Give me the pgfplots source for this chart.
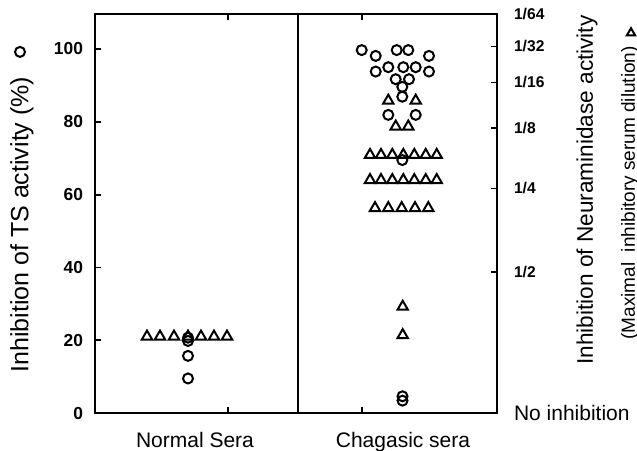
\documentclass[border=0pt]{standalone}
\usepackage{pgfplots}
\pgfplotsset{compat=1.18}
\usepackage{fontspec}
\setmainfont{Liberation Sans}

% 1 px of the reference = 0.5pt; x in px, y in % (0 at px 413, 3.64 px per unit)
\begin{document}
\begin{tikzpicture}
\pgfplotsset{
  panel/.style={
    scale only axis, width=201pt, height=199.5pt,
    xmin=95, xmax=497, ymin=0, ymax=109.6,
    axis line style={line width=1pt},
    tick align=inside, major tick length=3pt,
    tick style={line width=0.9pt, black},
    /pgf/number format/assume math mode=true,
    clip=false,
  },
  circ/.style={only marks, mark=o, mark size=2.5pt, line width=1pt},
  tri/.style={only marks, mark=triangle, mark size=3pt, line width=1pt},
}
\begin{axis}[panel,
    xtick={228,362}, xticklabels={}, xtick pos=both,
    ytick={0,20,40,60,80,100}, ytick pos=left,
    yticklabel style={font=\fontsize{8.7}{10}\selectfont\bfseries, xshift=-2.5pt},
]
% normal sera
\addplot[tri] coordinates {
  (147,21.0) (160,21.0) (174,21.0) (188,21.0) (201,21.0) (214,21.0) (227,21.0)
};
\addplot[circ] coordinates {
  (188,20.7) (188,19.8) (188,15.7) (188,9.5)
};
% chagasic sera
\addplot[tri] coordinates {
  (388.3,85.8) (415.7,85.8) (395.7,78.7) (408.3,78.7)
  (370,70.9) (381,70.9) (392.3,70.9) (403.3,70.9) (414.3,70.9) (425.7,70.9) (436.7,70.9)
  (370,64.0) (381,64.0) (392.3,64.0) (403.3,64.0) (414.3,64.0) (425.7,64.0) (436.7,64.0)
  (375,56.3) (388.3,56.3) (401.7,56.3) (415,56.3) (428.3,56.3)
  (402.7,29.2) (402.7,21.4)
};
\addplot[circ] coordinates {
  (361.7,99.7) (375.7,98.1) (396.7,99.7) (408.3,99.7) (429,98.1)
  (375.7,93.8) (388.3,95.0) (403.3,95.0) (415.7,95.0) (429,93.8)
  (395.7,91.7) (409,91.7) (402.3,89.6) (402.3,86.9)
  (388.3,81.9) (415.7,81.9) (402.3,69.5)
  (402.5,4.6) (402.5,3.4)
};
% keys beside the axis titles
\addplot[circ] coordinates {(20,99.2)};
\addplot[tri, mark size=2.4pt] coordinates {(631,104.4)};
\draw[line width=1pt] (axis cs:298,0) -- (axis cs:298,109.6);
\node[font=\fontsize{10.5}{12}\selectfont] at (axis cs:195,-7.4) {Normal Sera};
\node[font=\fontsize{10.5}{12}\selectfont] at (axis cs:403,-8.0) {Chagasic sera};
\node[rotate=90, anchor=west, inner sep=0pt, font=\fontsize{12.5}{14}\selectfont] at (axis cs:22,11.0)
  {Inhibition of TS activity (\%)};
\node[rotate=90, anchor=west, inner sep=0pt, font=\fontsize{11.3}{13}\selectfont] at (axis cs:587,13.2)
  {Inhibition of Neuraminidase activity};
\node[rotate=90, anchor=west, inner sep=0pt, font=\fontsize{9.5}{11}\selectfont] at (axis cs:630,20.05)
  {(Maximal\ \ inhibitory serum dilution)};
\coordinate (bl) at (axis cs:0,-10.16);
\coordinate (tr) at (axis cs:637,113.46);
\end{axis}
\begin{axis}[panel,
    axis x line=none, axis y line*=right,
    ytick={0,38.7,61.7,78.2,90.8,100.7,109.6},
    yticklabels={{\mdseries\fontsize{10.5}{12}\selectfont No inhibition},1/2,1/4,1/8,1/16,1/32,1/64},
    yticklabel style={anchor=west, font=\fontsize{7.8}{9}\selectfont\bfseries, xshift=5pt},
]
\end{axis}
\pgfresetboundingbox
\path (bl) rectangle (tr);
\end{tikzpicture}
\end{document}
